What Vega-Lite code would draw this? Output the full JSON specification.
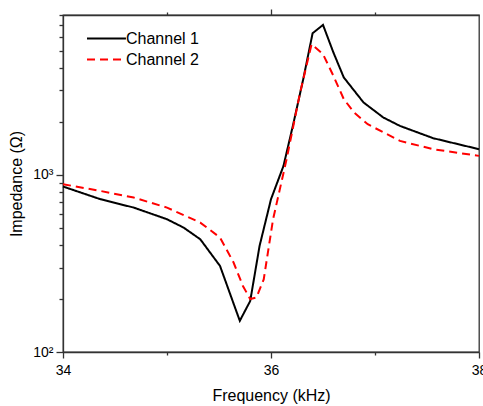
{
  "$schema": "https://vega.github.io/schema/vega-lite/v6.json",
  "width": 416,
  "height": 337,
  "autosize": {"type": "none"},
  "padding": {"left": 63, "top": 15, "right": 4, "bottom": 54},
  "background": "white",
  "config": {
    "view": {"stroke": "#333", "strokeWidth": 1.3},
    "font": "Liberation Sans",
    "axis": {"domainColor": "#333", "domainWidth": 1.3, "tickColor": "#333", "tickWidth": 1.3, "grid": false, "labelColor": "#000", "titleColor": "#000", "labelFont": "Liberation Sans", "titleFont": "Liberation Sans", "titleFontWeight": "normal", "labelFontSize": 14, "titleFontSize": 16}
  },
  "data": {
    "values": [
      {"f": 34.0, "z": 860, "ch": "Channel 1"},
      {"f": 34.36, "z": 729, "ch": "Channel 1"},
      {"f": 34.68, "z": 654, "ch": "Channel 1"},
      {"f": 35.0, "z": 562, "ch": "Channel 1"},
      {"f": 35.16, "z": 504, "ch": "Channel 1"},
      {"f": 35.32, "z": 433, "ch": "Channel 1"},
      {"f": 35.51, "z": 306, "ch": "Channel 1"},
      {"f": 35.70, "z": 150, "ch": "Channel 1"},
      {"f": 35.80, "z": 194, "ch": "Channel 1"},
      {"f": 35.89, "z": 397, "ch": "Channel 1"},
      {"f": 36.0, "z": 729, "ch": "Channel 1"},
      {"f": 36.12, "z": 1124, "ch": "Channel 1"},
      {"f": 36.21, "z": 1891, "ch": "Channel 1"},
      {"f": 36.31, "z": 3472, "ch": "Channel 1"},
      {"f": 36.40, "z": 6310, "ch": "Channel 1"},
      {"f": 36.50, "z": 7035, "ch": "Channel 1"},
      {"f": 36.60, "z": 4914, "ch": "Channel 1"},
      {"f": 36.70, "z": 3550, "ch": "Channel 1"},
      {"f": 36.89, "z": 2564, "ch": "Channel 1"},
      {"f": 37.08, "z": 2110, "ch": "Channel 1"},
      {"f": 37.24, "z": 1891, "ch": "Channel 1"},
      {"f": 37.56, "z": 1612, "ch": "Channel 1"},
      {"f": 38.0, "z": 1397, "ch": "Channel 1"},
      {"f": 34.0, "z": 886, "ch": "Channel 2"},
      {"f": 34.36, "z": 812, "ch": "Channel 2"},
      {"f": 34.68, "z": 745, "ch": "Channel 2"},
      {"f": 35.0, "z": 654, "ch": "Channel 2"},
      {"f": 35.32, "z": 538, "ch": "Channel 2"},
      {"f": 35.51, "z": 443, "ch": "Channel 2"},
      {"f": 35.64, "z": 320, "ch": "Channel 2"},
      {"f": 35.73, "z": 236, "ch": "Channel 2"},
      {"f": 35.80, "z": 199, "ch": "Channel 2"},
      {"f": 35.86, "z": 203, "ch": "Channel 2"},
      {"f": 35.93, "z": 257, "ch": "Channel 2"},
      {"f": 36.02, "z": 562, "ch": "Channel 2"},
      {"f": 36.15, "z": 1227, "ch": "Channel 2"},
      {"f": 36.28, "z": 2919, "ch": "Channel 2"},
      {"f": 36.39, "z": 5470, "ch": "Channel 2"},
      {"f": 36.50, "z": 4808, "ch": "Channel 2"},
      {"f": 36.60, "z": 3626, "ch": "Channel 2"},
      {"f": 36.70, "z": 2678, "ch": "Channel 2"},
      {"f": 36.80, "z": 2251, "ch": "Channel 2"},
      {"f": 36.93, "z": 1933, "ch": "Channel 2"},
      {"f": 37.24, "z": 1556, "ch": "Channel 2"},
      {"f": 37.56, "z": 1397, "ch": "Channel 2"},
      {"f": 38.0, "z": 1281, "ch": "Channel 2"}
    ]
  },
  "layer": [
    {
      "mark": {"type": "line", "strokeWidth": 2},
      "encoding": {
        "x": {"field": "f", "type": "quantitative", "scale": {"domain": [34, 38], "nice": false},
          "axis": {"orient": "bottom", "title": "Frequency (kHz)", "titleFontSize": 16, "titlePadding": 10, "labelFontSize": 14, "labelPadding": 5,
            "values": [34, 35, 36, 37, 38],
            "labelExpr": "datum.value % 2 == 0 ? datum.label : ''",
            "tickSize": {"condition": {"test": "datum.value % 2 == 0", "value": 6}, "value": 3},
            "labelFlush": false, "labelOverlap": false}},
        "y": {"field": "z", "type": "quantitative", "scale": {"type": "log", "domain": [100, 8000], "nice": false},
          "axis": {"orient": "left", "title": "Impedance (Ω)", "titleFontSize": 16, "titlePadding": 8, "labelFontSize": 14, "labelPadding": 3,
            "values": [100, 200, 300, 400, 500, 600, 700, 800, 900, 1000, 2000, 3000, 4000, 5000, 6000, 7000, 8000],
            "labelExpr": "datum.value == 100 ? '10²' : datum.value == 1000 ? '10³' : ''",
            "tickSize": {"condition": {"test": "datum.value == 100 || datum.value == 1000", "value": 7}, "value": 4},
            "labelFlush": false, "labelOverlap": false}},
        "color": {"field": "ch", "type": "nominal", "scale": {"domain": ["Channel 1", "Channel 2"], "range": ["#000000", "#ff0000"]},
          "legend": {"orient": "none", "legendX": 23, "legendY": 13, "title": null, "symbolType": "M-1,0H3.1", "symbolSize": 361, "symbolStrokeWidth": 2, "labelFontSize": 16, "labelOffset": 19, "rowPadding": 2, "padding": 0, "labelColor": "#000"}},
        "strokeDash": {"field": "ch", "type": "nominal", "scale": {"domain": ["Channel 1", "Channel 2"], "range": [[1, 0], [8, 5]]},
          "legend": {"orient": "none", "legendX": 23, "legendY": 13, "title": null, "symbolType": "M-1,0H3.1", "symbolSize": 361, "symbolStrokeWidth": 2, "labelFontSize": 16, "labelOffset": 19, "rowPadding": 2, "padding": 0, "labelColor": "#000"}}
      }
    },
    {
      "mark": {"type": "rule", "opacity": 0},
      "encoding": {
        "x": {"field": "f", "type": "quantitative",
          "axis": {"orient": "top", "title": null, "values": [35, 36, 37], "labels": false,
            "tickSize": {"condition": {"test": "datum.value == 36", "value": 6}, "value": 3}}}
      }
    }
  ],
  "resolve": {"axis": {"x": "independent"}}
}
